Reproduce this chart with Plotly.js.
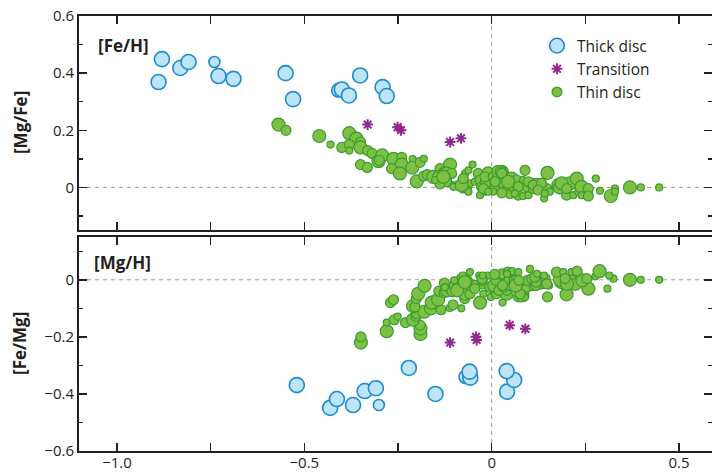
<!DOCTYPE html>
<html>
<head>
<meta charset="utf-8">
<script src="https://cdn.plot.ly/plotly-3.0.1.min.js"></script>
<style>html,body{margin:0;padding:0;background:#fff;}#chart{width:712px;height:473px;}</style>
</head>
<body>
<div id="chart"></div>
<script>
// ---- data ----
// [Fe/H] and [Mg/Fe] per star; the lower panel plots the same stars as
// [Mg/H] = [Fe/H] + [Mg/Fe] and [Fe/Mg] = -[Mg/Fe].
var thickFeH = [-0.889,-0.880,-0.831,-0.809,-0.740,-0.729,-0.689,-0.550,-0.530,-0.409,-0.400,-0.381,-0.351,-0.291,-0.280];
var thickMgFe = [0.369,0.449,0.418,0.439,0.439,0.390,0.380,0.400,0.309,0.340,0.343,0.322,0.392,0.351,0.320];
var thickSize = [3,3,3,3,1,3,3,3,3,2,3,3,3,3,3];

var transFeH = [-0.331,-0.251,-0.242,-0.111,-0.082];
var transMgFe = [0.220,0.211,0.200,0.159,0.172];

var thinFeH = [-0.569,-0.549,-0.460,-0.430,-0.400,-0.380,-0.361,-0.380,-0.380,-0.350,-0.350,-0.331,-0.319,-0.350,-0.332,-0.302,-0.292,-0.300,-0.262,-0.240,
  -0.240,-0.267,-0.245,-0.211,-0.212,-0.191,-0.181,-0.200,-0.181,-0.172,-0.156,-0.138,-0.140,-0.129,-0.111,-0.120,-0.120,-0.138,-0.151,-0.107,
  -0.101,-0.089,-0.076,-0.071,-0.062,-0.051,-0.077,-0.067,-0.058,-0.062,-0.045,-0.036,-0.031,-0.027,-0.031,-0.018,-0.013,-0.009,-0.018,0.004,
  0.013,0.009,0.004,0.018,0.027,0.031,0.029,0.035,0.031,0.049,0.040,0.053,0.053,0.058,0.067,0.067,0.075,0.089,0.084,0.093,
  0.071,0.084,0.098,0.107,0.111,0.120,0.129,0.133,0.138,0.140,0.149,0.147,0.155,0.178,0.182,0.191,0.200,0.209,0.218,0.227,
  0.231,0.240,0.240,0.258,0.258,0.278,0.289,0.318,0.329,0.329,0.369,0.398,0.447,
  -0.129,-0.102,-0.080,-0.076,-0.022,-0.009,0.009,0.027,0.098,0.111,0.133,0.124,0.142,0.044,0.071,0.062,0.027,0.187,0.200];
var thinMgFe = [0.220,0.200,0.180,0.150,0.140,0.190,0.171,0.150,0.129,0.159,0.140,0.129,0.119,0.080,0.070,0.092,0.112,0.095,0.100,0.105,
  0.080,0.066,0.049,0.099,0.069,0.088,0.100,0.021,0.040,0.045,0.037,0.066,0.037,0.058,0.080,0.049,0.020,0.012,0.026,0.049,
  0.008,0.002,0.020,0.049,0.060,0.080,-0.007,0.002,0.014,-0.015,0.020,0.049,0.026,0.002,-0.027,-0.015,0.020,0.049,0.037,0.037,
  0.020,0.002,-0.015,0.055,0.055,0.037,0.060,0.014,-0.015,-0.021,0.002,0.031,0.014,0.002,0.026,-0.004,0.008,0.060,0.026,0.002,
  -0.027,-0.030,-0.027,0.020,-0.004,0.014,0.002,0.020,-0.009,-0.038,0.051,-0.004,-0.015,0.008,0.000,0.016,-0.027,0.014,-0.027,0.031,
  -0.015,0.002,-0.027,-0.004,-0.030,0.031,-0.012,-0.030,-0.004,-0.015,0.000,0.000,0.000,
  0.037,0.002,0.008,0.031,-0.004,-0.015,0.020,0.049,0.020,0.008,0.014,-0.009,-0.021,0.020,0.002,-0.021,-0.019,0.014,-0.004];
var thinSize = [3,2,3,1,2,3,3,2,1,2,3,2,2,2,2,3,3,2,3,2,
  3,2,3,1,3,2,1,3,2,2,3,2,3,1,3,3,2,2,1,2,
  1,1,2,1,1,1,1,2,1,1,1,2,2,2,1,1,3,3,2,2,
  3,2,1,3,3,3,1,3,1,2,1,3,2,2,2,1,1,2,1,2,
  2,1,1,1,2,2,1,1,1,1,3,2,1,3,3,2,2,3,1,3,
  1,3,1,2,2,1,1,3,1,1,3,1,1,
  3,1,3,2,2,1,2,2,2,2,2,2,1,3,2,1,2,3,2];

var xTickVals = [-1.0,-0.75,-0.5,-0.25,0,0.25,0.5];
var xTickText = ['\u22121.0','','\u22120.5','','0','','0.5'];
var yTopTickVals = [0,0.2,0.4,0.6];
var yTopTickText = ['0','0.2','0.4','0.6'];
var yBotTickVals = [-0.6,-0.4,-0.2,0];
var yBotTickText = ['\u22120.6','\u22120.4','\u22120.2','0'];

// ---- derived lower-panel coordinates ----
function add(a,b){return a.map(function(v,i){return +(v+b[i]).toFixed(3);});}
function neg(a){return a.map(function(v){return -v;});}

var thinPx = {1:7, 2:10, 3:13};
var thickPx = {1:11, 2:13.5, 3:15};
function px(arr,map){return arr.map(function(s){return map[s];});}

var TXT = '#231f20';
var FONT = 'Open Sans, Noto Sans, sans-serif';

var thickMarker = {color:'#bde4f7', opacity:1, size:px(thickSize,thickPx), line:{color:'#1b8ccf', width:1.6}};
var transMarker = {color:'#92278f', opacity:1, symbol:'asterisk-open', size:9, line:{color:'#92278f', width:2}};
var thinMarker = {color:'#7cc143', opacity:1, size:px(thinSize,thinPx), line:{color:'#3b9b2f', width:1.2}};

var traces = [
  {type:'scatter', mode:'markers', name:'Thick disc', x:thickFeH, y:thickMgFe, xaxis:'x', yaxis:'y', marker:thickMarker},
  {type:'scatter', mode:'markers', name:'Transition', x:transFeH, y:transMgFe, xaxis:'x', yaxis:'y', marker:transMarker},
  {type:'scatter', mode:'markers', name:'Thin disc', x:thinFeH, y:thinMgFe, xaxis:'x', yaxis:'y', marker:thinMarker},
  {type:'scatter', mode:'markers', name:'Thick disc', x:add(thickFeH,thickMgFe), y:neg(thickMgFe), xaxis:'x2', yaxis:'y2', marker:thickMarker, showlegend:false},
  {type:'scatter', mode:'markers', name:'Transition', x:add(transFeH,transMgFe), y:neg(transMgFe), xaxis:'x2', yaxis:'y2', marker:transMarker, showlegend:false},
  {type:'scatter', mode:'markers', name:'Thin disc', x:add(thinFeH,thinMgFe), y:neg(thinMgFe), xaxis:'x2', yaxis:'y2', marker:thinMarker, showlegend:false}
];

var xRange = [-1.1013, 0.588];
function xAxis(anchor, showLabels){
  return {anchor:anchor, range:xRange, tickmode:'array', tickvals:xTickVals,
    ticktext: showLabels ? xTickText : xTickVals.map(function(){return '';}),
    showticklabels: showLabels, ticks:'inside', ticklen:8, tickwidth:1.5, tickcolor:TXT,
    ticklabelstandoff:-3,
    showline:true, linewidth:2, linecolor:TXT, mirror:'ticks', showgrid:false, zeroline:false,
    tickfont:{family:FONT, size:15, color:TXT}, fixedrange:true};
}
function yAxis(anchor, domain, range, tv, tt){
  return {anchor:anchor, domain:domain, range:range, tickmode:'array', tickvals:tv, ticktext:tt,
    ticks:'inside', ticklen:8, tickwidth:1.5, tickcolor:TXT,
    minor:{dtick:0.1, ticks:'inside', ticklen:4, tickwidth:1.5, tickcolor:TXT, showgrid:false},
    showline:true, linewidth:2, linecolor:TXT, mirror:'ticks', showgrid:false, zeroline:false,
    tickfont:{family:FONT, size:15, color:TXT}, fixedrange:true};
}

var dash = {color:'#9a9a9a', width:1, dash:'4px,4px'};
var shapes = [
  {type:'line', layer:'below', xref:'x domain', yref:'y', x0:0, x1:1, y0:0, y1:0, line:dash},
  {type:'line', layer:'below', xref:'x', yref:'y domain', x0:0, x1:0, y0:0, y1:1, line:dash},
  {type:'line', layer:'below', xref:'x2 domain', yref:'y2', x0:0, x1:1, y0:0, y1:0, line:dash},
  {type:'line', layer:'below', xref:'x2', yref:'y2 domain', x0:0, x1:0, y0:0, y1:1, line:dash}
];

var boldFont = {family:FONT, size:17, color:TXT, weight:'bold'};
var annotations = [
  {text:'<b>[Fe/H]</b>', xref:'paper', yref:'y domain', x:0, y:1, xanchor:'left', yanchor:'middle', xshift:17, yshift:-29, showarrow:false, font:boldFont},
  {text:'<b>[Mg/H]</b>', xref:'paper', yref:'y2 domain', x:0, y:1, xanchor:'left', yanchor:'middle', xshift:13, yshift:-26, showarrow:false, font:boldFont},
  {text:'<b>[Mg/Fe]</b>', xref:'paper', yref:'y domain', x:0, y:0.5, xanchor:'center', yanchor:'middle', xshift:-59, textangle:-90, showarrow:false, font:boldFont},
  {text:'<b>[Fe/Mg]</b>', xref:'paper', yref:'y2 domain', x:0, y:0.5, xanchor:'center', yanchor:'middle', xshift:-59, textangle:-90, showarrow:false, font:boldFont}
];

var layout = {
  width:712, height:473,
  margin:{l:79, r:0, t:16, b:22, pad:0},
  paper_bgcolor:'#ffffff', plot_bgcolor:'#ffffff',
  font:{family:FONT, color:TXT},
  showlegend:true,
  legend:{x:0.7235, y:0.970, xanchor:'left', yanchor:'top', bgcolor:'rgba(0,0,0,0)',
    font:{family:FONT, size:15.5, color:TXT}, itemsizing:'trace', tracegroupgap:0},
  xaxis:xAxis('y', false),
  yaxis:yAxis('x', [0.508,1], [-0.149,0.6], yTopTickVals, yTopTickText),
  xaxis2:xAxis('y2', true),
  yaxis2:yAxis('x2', [0,0.492], [-0.6,0.15], yBotTickVals, yBotTickText),
  shapes:shapes,
  annotations:annotations
};

Plotly.newPlot('chart', traces, layout, {displayModeBar:false, staticPlot:true});
</script>
</body>
</html>
